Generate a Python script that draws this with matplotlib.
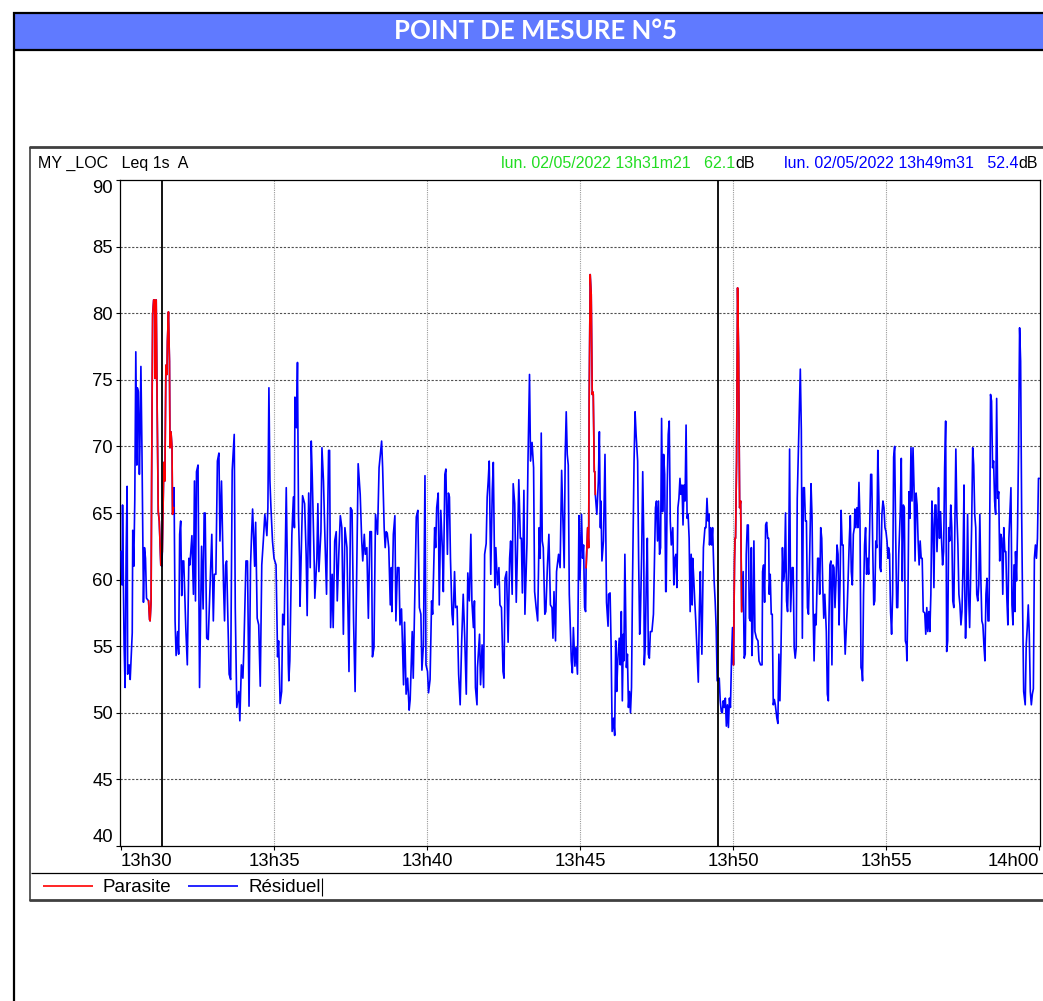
#!/usr/bin/env python3
"""
Noise monitoring chart - point de mesure n°5 (Leq 1s, dB(A)).
"""

import numpy as np
import matplotlib
matplotlib.use('Agg')
import matplotlib.pyplot as plt
from matplotlib.lines import Line2D
from matplotlib.patches import Rectangle

# ---- data (seconds after 13h30m00, level in dB) ----
time_s = [
    # 13h30 - 13h32
    0, 2, 3, 6, 8, 10, 12, 13, 16, 18,
    22, 23, 25, 27, 29, 31, 32, 34, 36, 37,
    39, 41, 44, 46, 48, 50, 54, 56, 57, 59,
    60, 62, 64, 66, 67, 69, 71, 73, 75, 78,
    80, 81, 84, 86, 88, 90, 91, 93, 95, 96,
    98, 100, 101, 103, 104, 106, 108, 111, 113, 115,
    117, 119, 121, 123, 127, 130, 133, 135, 139, 142,
    144, 146, 148, 151, 154,
    # 13h32 - 13h38
    158, 161, 163, 165, 168, 171, 178, 181, 183, 186,
    189, 192, 194, 197, 201, 203, 205, 207, 212, 215,
    218, 222, 224, 227, 231, 233, 236, 239, 241, 245,
    248, 251, 254, 256, 258, 262, 264, 267, 270, 273,
    276, 279, 282, 286, 288, 290, 292, 294, 297, 300,
    304, 307, 309, 312, 315, 317, 320, 324, 326, 328,
    329, 331, 335, 338, 340, 341, 344, 346, 348, 350,
    351, 354, 356, 360, 363, 365, 368, 371, 373, 375,
    379, 380, 384, 386, 388, 392, 394, 397, 400, 403,
    407, 409, 411, 414, 416, 419, 422, 424, 427, 430,
    433, 436, 439, 443, 447, 450, 453, 456, 459, 462,
    465, 469, 472, 474, 477, 479, 482, 485, 488, 491,
    493, 496, 499, 503, 506,
    # 13h38 - 13h44
    511, 513, 516, 518, 520, 522, 525, 528, 530, 531,
    534, 537, 539, 542, 545, 547, 550, 554, 556, 559,
    562, 565, 567, 571, 573, 577, 579, 582, 585, 588,
    590, 593, 596, 598, 601, 603, 606, 609, 611, 615,
    617, 619, 622, 624, 627, 630, 632, 635, 637, 640,
    642, 644, 646, 649, 651, 654, 656, 659, 662, 665,
    668, 671, 674, 677, 680, 683, 686, 688, 691, 693,
    695, 698, 699, 703, 705, 708, 711, 713, 716, 718,
    720, 722, 725, 728, 730, 733, 735, 738, 741, 743,
    746, 749, 751, 753, 756, 759, 762, 764, 767, 769,
    772, 775, 777, 780, 783, 785, 787, 790, 792, 796,
    798, 801, 803, 806, 809, 811, 814, 817, 820, 822,
    824, 826, 828, 831, 833, 836, 839, 842, 845, 847,
    849, 852, 854, 858, 861, 864,
    # 13h44 - 13h51
    869, 871, 873, 875, 877, 879, 883, 885, 887, 890,
    892, 895, 898, 900, 903, 905, 907, 909, 911, 912,
    915, 917, 918, 920, 922, 924, 925, 926, 928, 929,
    930, 933, 936, 938, 940, 941, 943, 946, 949, 951,
    952, 955, 956, 959, 961, 963, 966, 968, 970, 972,
    974, 977, 979, 981, 983, 985, 986, 988, 991, 993,
    995, 997, 999, 1001, 1003, 1006, 1008, 1010, 1013, 1015,
    1017, 1018, 1021, 1023, 1025, 1026, 1028, 1030, 1032, 1034,
    1036, 1038, 1041, 1044, 1046, 1048, 1050, 1052, 1054, 1056,
    1058, 1060, 1062, 1064, 1066, 1068, 1069, 1071, 1073, 1075,
    1077, 1079, 1082, 1084, 1086, 1088, 1090, 1092, 1094, 1096,
    1098, 1100, 1102, 1104, 1106, 1108, 1110, 1112, 1114, 1116,
    1118, 1120, 1121, 1123, 1125, 1127, 1129, 1132, 1134, 1136,
    1137, 1139, 1142, 1145, 1147, 1149, 1151, 1153, 1154, 1156,
    1158, 1160, 1163, 1165, 1167, 1169, 1173, 1175, 1177, 1179,
    1181, 1183, 1185, 1187, 1189, 1191, 1193, 1195, 1197, 1199,
    1201, 1203, 1204, 1205, 1207, 1209, 1211, 1213, 1215, 1217,
    1220, 1222, 1224, 1226, 1228, 1230, 1232, 1234, 1236, 1237,
    1239, 1241, 1243, 1246, 1249, 1251,
    # 13h51 - 13h55
    1254, 1257, 1258, 1260, 1262, 1264, 1266, 1268, 1270, 1271,
    1273, 1275, 1277, 1279, 1281, 1283, 1286, 1288, 1290, 1292,
    1294, 1297, 1299, 1301, 1303, 1305, 1307, 1309, 1311, 1313,
    1316, 1318, 1320, 1322, 1324, 1326, 1329, 1332, 1334, 1336,
    1338, 1340, 1342, 1344, 1346, 1348, 1350, 1353, 1355, 1357,
    1359, 1361, 1363, 1366, 1368, 1370, 1372, 1374, 1376, 1378,
    1380, 1383, 1385, 1387, 1388, 1390, 1392, 1394, 1396, 1398,
    1400, 1402, 1404, 1406, 1408, 1410, 1412, 1414, 1416, 1418,
    1420, 1422, 1424, 1426, 1428, 1430, 1432, 1434, 1436, 1438,
    1439, 1441, 1443, 1445, 1447, 1449, 1451, 1453, 1454, 1456,
    1458, 1460, 1462, 1464, 1466, 1468, 1470, 1472, 1474, 1476,
    1478, 1480, 1482, 1484, 1486, 1488, 1490, 1492, 1494, 1496,
    1498, 1500, 1502, 1504, 1505, 1507, 1509, 1511, 1513, 1515,
    1517, 1519, 1521, 1523, 1525,
    # 13h55 - 14h00
    1528, 1530, 1532, 1534, 1536, 1538, 1540, 1541, 1543, 1545,
    1547, 1549, 1551, 1553, 1555, 1557, 1559, 1561, 1563, 1565,
    1567, 1569, 1571, 1573, 1576, 1578, 1580, 1582, 1584, 1586,
    1588, 1590, 1592, 1594, 1596, 1598, 1600, 1602, 1603, 1605,
    1607, 1609, 1611, 1613, 1615, 1617, 1619, 1621, 1623, 1625,
    1627, 1629, 1631, 1633, 1635, 1637, 1639, 1641, 1643, 1645,
    1647, 1649, 1651, 1653, 1654, 1656, 1658, 1660, 1662, 1664,
    1666, 1668, 1670, 1672, 1674, 1676, 1678, 1680, 1682, 1684,
    1686, 1688, 1690, 1692, 1694, 1696, 1698, 1700, 1702, 1704,
    1705, 1707, 1709, 1711, 1713, 1715, 1717, 1719, 1721, 1723,
    1725, 1727, 1729, 1731, 1733, 1735, 1737, 1739, 1741, 1743,
    1745, 1747, 1749, 1751, 1753, 1754, 1756, 1758, 1760, 1762,
    1764, 1766, 1768, 1770, 1773, 1775, 1777, 1779, 1781, 1783,
    1785, 1787, 1789, 1791, 1793, 1795, 1797, 1799, 1800,
]

level_db = [
    # 13h30 - 13h32
    62.1, 59.6, 65.6, 55.1, 51.9, 61.9, 67.0, 52.9, 53.6, 52.5,
    56.0, 63.7, 61.0, 66.0, 77.1, 68.6, 74.4, 74.1, 67.9, 69.9,
    76.0, 69.9, 58.3, 62.4, 61.6, 58.6, 58.4, 57.0, 56.9, 58.4,
    67.4, 79.9, 81.0, 81.0, 75.1, 81.0, 72.4, 65.1, 64.4, 61.1,
    61.0, 62.1, 68.8, 67.4, 76.1, 75.4, 77.9, 80.1, 76.4, 69.9,
    71.1, 69.9, 64.9, 65.4, 66.9, 56.9, 54.3, 56.1, 54.4, 63.4,
    64.4, 58.8, 61.4, 61.4, 56.4, 53.6, 61.6, 61.1, 63.3, 58.9,
    67.4, 58.4, 68.1, 68.6, 51.9,
    # 13h32 - 13h38
    62.5, 57.8, 65.0, 65.0, 55.6, 55.5, 63.4, 56.9, 60.4, 60.4,
    68.9, 69.5, 62.9, 67.4, 59.6, 56.9, 61.1, 61.4, 52.9, 52.5,
    68.2, 70.9, 57.9, 50.4, 51.6, 49.4, 53.6, 52.6, 55.0, 61.4,
    61.4, 50.5, 61.1, 63.4, 65.3, 61.0, 64.3, 57.1, 56.6, 52.0,
    61.1, 62.9, 64.9, 63.3, 65.4, 74.4, 67.4, 65.4, 62.9, 61.6,
    61.1, 54.2, 55.4, 50.7, 51.6, 57.4, 56.6, 66.9, 61.4, 53.7,
    52.4, 53.9, 63.4, 66.2, 63.9, 73.7, 71.4, 76.3, 64.9, 61.6,
    58.0, 62.9, 66.3, 65.7, 61.9, 57.3, 66.5, 60.9, 70.4, 67.7,
    60.9, 58.6, 61.6, 65.7, 60.6, 63.6, 69.9, 67.4, 62.9, 58.9,
    69.7, 69.7, 56.4, 60.4, 56.4, 62.9, 63.6, 58.4, 61.9, 64.8,
    63.9, 55.9, 63.9, 62.4, 53.1, 65.4, 65.2, 56.9, 51.6, 59.9,
    68.7, 66.4, 62.9, 61.4, 63.4, 61.9, 62.4, 57.1, 63.6, 63.6,
    54.2, 54.9, 64.9, 63.4, 68.4,
    # 13h38 - 13h44
    70.4, 68.4, 63.9, 62.4, 63.6, 63.5, 62.4, 58.1, 60.9, 57.6,
    63.4, 64.8, 56.9, 60.9, 60.9, 56.6, 57.8, 52.1, 56.8, 51.4,
    52.6, 50.2, 51.0, 56.1, 52.6, 60.9, 64.7, 65.2, 57.9, 57.4,
    53.2, 55.1, 67.8, 53.6, 53.1, 51.5, 52.5, 58.4, 57.4, 63.9,
    62.4, 65.4, 66.5, 58.1, 65.2, 62.4, 59.1, 67.9, 68.3, 61.9,
    66.5, 66.2, 61.6, 57.4, 56.6, 60.6, 57.9, 58.0, 52.9, 50.6,
    55.4, 58.9, 55.6, 51.4, 60.5, 58.4, 63.4, 58.4, 56.4, 58.4,
    51.9, 50.6, 53.4, 55.9, 52.1, 55.1, 51.9, 61.9, 62.7, 66.2,
    67.4, 68.9, 60.4, 66.7, 68.8, 59.4, 62.4, 59.6, 60.9, 58.1,
    57.9, 53.1, 52.6, 60.1, 60.6, 55.3, 61.6, 62.9, 58.9, 67.2,
    65.7, 58.3, 61.6, 67.5, 63.1, 63.1, 59.0, 66.7, 57.4, 62.7,
    68.9, 75.4, 68.9, 70.3, 68.4, 59.1, 57.9, 56.9, 63.9, 61.6,
    71.0, 62.9, 62.4, 57.4, 57.6, 60.9, 63.4, 58.1, 57.9, 55.6,
    59.1, 55.4, 60.6, 61.9, 60.9, 68.2,
    # 13h44 - 13h51
    60.9, 69.4, 72.6, 69.4, 68.6, 58.9, 53.9, 53.0, 56.4, 53.5,
    54.9, 52.9, 64.8, 60.0, 64.9, 61.6, 62.6, 57.9, 57.6, 60.9,
    63.9, 62.4, 73.4, 82.9, 81.4, 73.9, 74.1, 73.9, 68.1, 68.1,
    66.4, 64.9, 67.4, 71.1, 63.9, 65.9, 61.4, 62.9, 69.4, 62.4,
    58.3, 56.5, 58.9, 59.0, 55.1, 48.6, 49.6, 48.3, 55.4, 51.6,
    53.9, 55.6, 53.6, 57.6, 50.9, 55.9, 53.9, 61.9, 53.4, 54.4,
    50.4, 51.6, 50.0, 51.9, 59.9, 68.9, 72.6, 70.9, 68.9, 61.4,
    55.9, 56.4, 62.1, 68.1, 63.1, 53.6, 55.1, 59.9, 63.1, 54.4,
    54.1, 56.1, 56.1, 57.4, 61.4, 65.4, 65.9, 62.9, 65.9, 61.9,
    62.4, 72.1, 65.1, 69.4, 67.9, 59.1, 59.1, 66.9, 70.9, 71.9,
    64.4, 62.6, 63.9, 59.6, 61.6, 61.9, 59.4, 65.4, 66.1, 67.6,
    66.4, 67.1, 64.1, 67.1, 65.9, 71.6, 64.6, 64.9, 63.1, 57.6,
    61.9, 58.1, 61.6, 60.1, 58.4, 56.9, 55.1, 52.3, 57.6, 60.6,
    58.1, 54.4, 62.4, 63.9, 63.9, 66.1, 64.4, 64.9, 62.6, 63.9,
    62.6, 63.9, 59.9, 58.4, 56.4, 52.4, 52.6, 50.9, 50.1, 50.0,
    50.9, 50.4, 51.1, 49.0, 50.6, 48.9, 51.1, 50.4, 53.9, 56.4,
    53.6, 61.4, 63.1, 63.1, 68.9, 81.9, 76.9, 65.4, 65.9, 57.6,
    60.6, 54.1, 54.4, 61.9, 64.1, 64.1, 57.1, 56.9, 62.4, 54.3,
    56.4, 62.9, 56.1, 55.6, 55.4, 53.9,
    # 13h51 - 13h55
    53.6, 53.6, 60.6, 61.1, 58.3, 64.1, 64.3, 63.1, 63.1, 58.9,
    60.4, 57.4, 57.4, 50.6, 51.0, 50.6, 49.6, 49.2, 54.4, 50.9,
    54.4, 62.4, 59.9, 60.6, 65.0, 58.4, 57.6, 60.9, 69.8, 57.6,
    60.9, 60.9, 54.9, 54.1, 54.9, 66.1, 70.9, 75.8, 71.2, 55.6,
    66.9, 66.9, 64.4, 64.4, 57.9, 57.4, 61.1, 67.2, 64.7, 57.9,
    53.9, 57.4, 56.6, 61.6, 61.6, 58.9, 63.9, 63.1, 59.6, 57.1,
    58.9, 56.1, 51.4, 50.9, 56.6, 61.1, 61.4, 53.6, 61.1, 60.9,
    57.9, 59.9, 62.6, 61.9, 56.6, 59.9, 65.2, 62.6, 62.6, 56.9,
    54.4, 56.1, 57.9, 60.4, 62.9, 64.8, 60.6, 59.6, 63.4, 63.9,
    65.3, 63.9, 65.4, 63.9, 67.3, 64.4, 53.4, 53.1, 52.4, 58.9,
    62.6, 63.9, 60.4, 61.6, 60.4, 63.9, 67.9, 67.9, 62.4, 58.1,
    58.4, 62.9, 62.4, 69.7, 66.2, 60.9, 60.6, 64.9, 65.9, 65.4,
    63.9, 63.6, 62.9, 61.6, 62.4, 61.9, 57.6, 55.9, 58.9, 69.2,
    70.0, 63.4, 57.9, 57.9, 61.9,
    # 13h55 - 14h00
    65.1, 69.1, 59.9, 65.6, 65.4, 55.4, 55.1, 53.9, 58.4, 66.6,
    64.6, 69.9, 65.9, 69.9, 66.9, 61.4, 66.5, 65.6, 62.9, 61.1,
    62.9, 61.6, 61.6, 57.6, 57.5, 55.9, 57.9, 56.1, 57.6, 56.1,
    58.9, 65.9, 64.1, 59.4, 65.6, 65.6, 62.1, 64.6, 66.9, 63.1,
    65.1, 62.9, 61.1, 62.1, 68.4, 71.9, 54.6, 55.4, 63.9, 62.9,
    65.6, 63.9, 58.4, 57.9, 64.1, 69.8, 64.9, 62.6, 58.9, 58.1,
    56.6, 57.6, 61.1, 67.1, 60.4, 55.6, 58.1, 64.9, 58.9, 56.4,
    60.1, 64.1, 69.9, 68.6, 64.9, 63.9, 58.9, 58.4, 59.6, 64.9,
    60.1, 56.9, 56.6, 55.1, 53.9, 58.9, 60.1, 56.9, 56.9, 67.4,
    73.9, 73.4, 68.4, 68.9, 65.9, 64.9, 73.6, 66.1, 66.6, 61.4,
    63.4, 63.1, 58.9, 63.9, 62.1, 62.1, 58.6, 56.6, 63.1, 65.1,
    66.9, 58.1, 56.6, 61.1, 57.6, 62.1, 59.9, 63.9, 70.1, 78.9,
    76.4, 65.1, 57.6, 51.6, 50.6, 55.1, 56.4, 58.1, 55.9, 51.6,
    50.6, 51.4, 51.8, 61.6, 62.6, 61.6, 63.1, 67.6, 67.6,
]

# parasite (red) windows, seconds after 13h30
parasite_start = [54, 81, 912, 1201]
parasite_end = [78, 103, 930, 1217]

# cursors: 13h31m21 and 13h49m31
cursor_s = [81, 1171]
cursor_text = ['lun. 02/05/2022 13h31m21   62.1', 'lun. 02/05/2022 13h49m31   52.4']

tick_s = [0, 300, 600, 900, 1200, 1500, 1800]
tick_labels = ['13h30', '13h35', '13h40', '13h45', '13h50', '13h55', '14h00']
series_names = ['Parasite', 'Résiduel']

W, H = 1043, 1001


def fx(x):
    return x / W


def fy(y):
    return 1 - y / H


def hline(fig, x0, x1, y, lw, color='black'):
    fig.add_artist(Line2D([fx(x0), fx(x1)], [fy(y), fy(y)], lw=lw, color=color,
                          transform=fig.transFigure, solid_capstyle='butt'))


def vline(fig, x, y0, y1, lw, color='black'):
    fig.add_artist(Line2D([fx(x), fx(x)], [fy(y0), fy(y1)], lw=lw, color=color,
                          transform=fig.transFigure, solid_capstyle='butt'))


def main():
    assert len(time_s) == len(level_db)
    t = np.array(time_s, dtype=float)
    v = np.array(level_db, dtype=float)

    plt.rcParams['font.family'] = ['Liberation Sans', 'DejaVu Sans']
    fig = plt.figure(figsize=(W / 100, H / 100), dpi=100)

    # title band
    fig.add_artist(Rectangle((fx(14), fy(50)), 1.0, fy(13) - fy(50), facecolor='#607AFF',
                             edgecolor='none', transform=fig.transFigure))
    hline(fig, 13, W, 13, 1.6)
    hline(fig, 13, W, 50, 1.6)
    vline(fig, 14, 12, H, 1.6)
    fig.text(fx(535), fy(31), 'POINT DE MESURE N°5', color='white', fontsize=18.5,
             fontweight='bold', family=['Lato', 'DejaVu Sans'], ha='center', va='center')

    # chart box
    hline(fig, 29, W, 147, 2.0, '#404040')
    vline(fig, 30, 147, 901, 1.2, '#404040')
    hline(fig, 29, W, 900, 2.0, '#404040')
    hline(fig, 31, W, 873, 0.9)

    # header
    hs = 11.5
    fig.text(fx(38), fy(163), 'MY _LOC   Leq 1s  A', fontsize=hs, va='center')
    fig.text(fx(735), fy(163), cursor_text[0], fontsize=hs, va='center', ha='right', color='#22DD22')
    fig.text(fx(735), fy(163), 'dB', fontsize=hs, va='center', ha='left')
    fig.text(fx(1018), fy(163), cursor_text[1], fontsize=hs, va='center', ha='right', color='#0000FF')
    fig.text(fx(1018), fy(163), 'dB', fontsize=hs, va='center', ha='left')

    # plot area
    ax = fig.add_axes([fx(120), fy(846), (1040 - 120) / W, (846 - 180) / H])
    ax.plot(t, v, color='#0000FF', lw=1.2, zorder=3)
    for a, b in zip(parasite_start, parasite_end):
        m = (t >= a) & (t <= b)
        ax.plot(t[m], v[m], color='#FF0000', lw=1.2, zorder=4)
    for c in cursor_s:
        ax.axvline(c, color='black', lw=1.3, zorder=5)

    ax.set_xlim(-2, 1802)
    ax.set_ylim(40, 90)
    ax.set_yticks(range(40, 91, 5))
    ax.set_xticks(tick_s)
    ax.set_xticklabels(tick_labels)
    for yv in range(45, 90, 5):
        ax.axhline(yv, color='#505050', lw=0.8, ls=(0, (2, 1.5)), zorder=1)
    for xv in tick_s[1:-1]:
        ax.axvline(xv, color='#9a9a9a', lw=0.8, ls=(0, (1, 1)), zorder=1)

    ax.tick_params(direction='out', length=3, width=0.8, labelsize=13.3, pad=2)
    xl = ax.get_xticklabels()
    xl[0].set_horizontalalignment('left')
    xl[-1].set_horizontalalignment('right')
    yl = ax.get_yticklabels()
    yl[0].set_verticalalignment('bottom')
    yl[-1].set_verticalalignment('top')
    for s in ax.spines.values():
        s.set_linewidth(0.9)
        s.set_color('black')

    # legend row
    hline(fig, 43, 93, 886, 1.2, '#FF0000')
    fig.text(fx(103), fy(887), series_names[0], fontsize=13.5, va='center')
    hline(fig, 188, 238, 886, 1.2, '#0000FF')
    txt = fig.text(fx(248), fy(887), series_names[1], fontsize=13.5, va='center')
    fig.canvas.draw()
    x_end = txt.get_window_extent().x1
    vline(fig, x_end + 1, 878, 896, 0.8)

    plt.savefig('out.png', dpi=100)


if __name__ == '__main__':
    main()
